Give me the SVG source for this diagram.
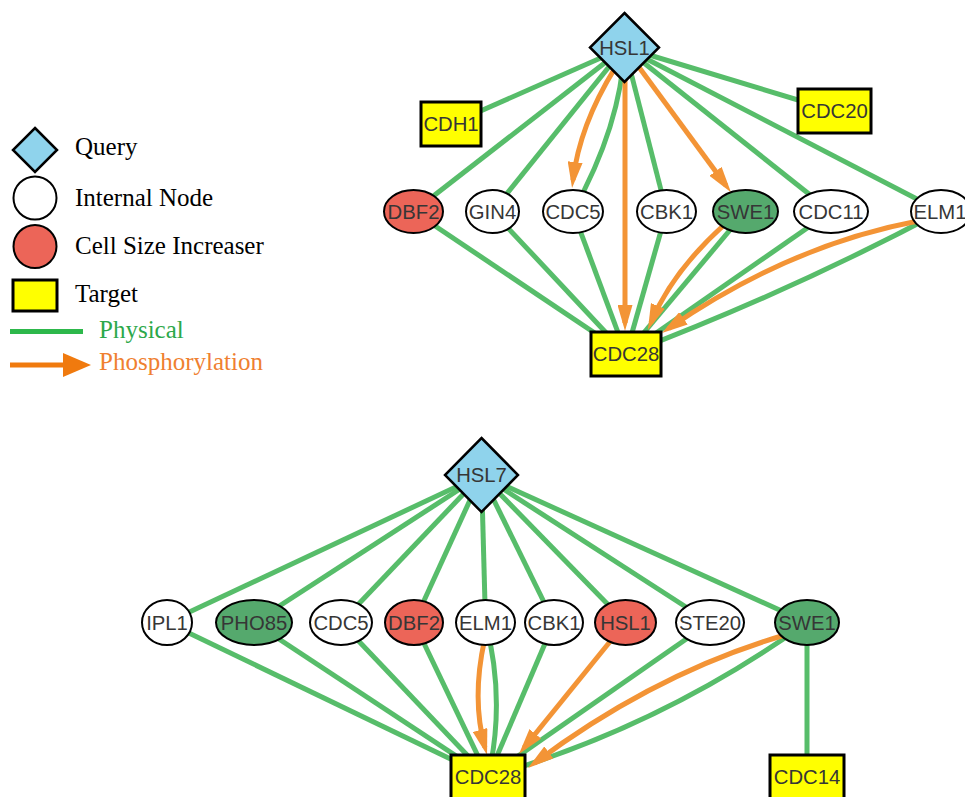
<svg xmlns="http://www.w3.org/2000/svg" width="965" height="797" viewBox="0 0 965 797">
  <style>
    .bg { fill: #ffffff; }
    .phys { fill: none; stroke: #57BD6A; stroke-width: 5; }
    .phos { fill: none; stroke: #F39436; stroke-width: 5; marker-end: url(#arrow); }
    .query { fill: #8FD3EC; stroke: #000; stroke-width: 2.5; }
    .internal { fill: #ffffff; stroke: #000; stroke-width: 2; }
    .increaser { fill: #EC6558; stroke: #000; stroke-width: 2; }
    .dark { fill: #55A96D; stroke: #000; stroke-width: 2; }
    .target { fill: #FFFF00; stroke: #000; stroke-width: 3; }
    .lbl { font-family: "Liberation Sans", Arial, sans-serif; font-size: 20.3px; fill: #363636; text-anchor: middle; }
    .leg { font-family: "Liberation Serif", "Times New Roman", serif; font-size: 25px; fill: #000; }
    .leg-phys { fill: #2CA84A; }
    .leg-phos { fill: #EF8030; }
  </style>
  <defs>
    <marker id="arrow" markerUnits="userSpaceOnUse" viewBox="0 0 26 15" markerWidth="26" markerHeight="15" refX="18" refY="7.5" orient="auto">
      <path d="M0,0 L26,7.5 L0,15 z" fill="#F39436"/>
    </marker>
  </defs>
  <rect class="bg" x="0" y="0" width="965" height="797"/>

  <!-- Legend -->
  <g id="legend">
    <polygon class="query" points="35,128 57,150 35,172 13,150" stroke-width="1.5"/>
    <text class="leg" x="75" y="155">Query</text>
    <circle class="internal" cx="35" cy="198" r="21.5" stroke-width="1.5"/>
    <text class="leg" x="75" y="206">Internal Node</text>
    <circle class="increaser" cx="35" cy="246.5" r="21.5" stroke-width="1.5"/>
    <text class="leg" x="75" y="254">Cell Size Increaser</text>
    <rect class="target" x="13" y="280" width="44" height="31" stroke-width="1.5"/>
    <text class="leg" x="75" y="302">Target</text>
    <line x1="10" y1="331.5" x2="83" y2="331.5" stroke="#2DB84B" stroke-width="5"/>
    <text class="leg leg-phys" x="99" y="338">Physical</text>
    <line x1="10" y1="365" x2="66" y2="365" stroke="#F07A0E" stroke-width="5"/>
    <polygon points="63,353 91,365 63,377" fill="#F07A0E"/>
    <text class="leg leg-phos" x="99" y="370">Phosphorylation</text>
  </g>

  <!-- HSL1 network: connectors -->
  <g id="edges-hsl1">
    <line class="phys" x1="624.5" y1="47.5" x2="451" y2="124"/>
    <line class="phys" x1="624.5" y1="47.5" x2="834.5" y2="111"/>
    <line class="phys" x1="624.5" y1="47.5" x2="413.5" y2="211.5"/>
    <line class="phys" x1="624.5" y1="47.5" x2="492.5" y2="211.5"/>
    <path class="phys" d="M624.5,47.5 Q621,125 573,211.5"/>
    <line class="phys" x1="624.5" y1="47.5" x2="666.5" y2="211.5"/>
    <line class="phys" x1="624.5" y1="47.5" x2="831" y2="211.5"/>
    <line class="phys" x1="624.5" y1="47.5" x2="941" y2="211.5"/>

    <line class="phys" x1="413.5" y1="211.5" x2="626" y2="354"/>
    <line class="phys" x1="492.5" y1="211.5" x2="626" y2="354"/>
    <line class="phys" x1="573" y1="211.5" x2="626" y2="354"/>
    <line class="phys" x1="666.5" y1="211.5" x2="626" y2="354"/>
    <line class="phys" x1="745.5" y1="211.5" x2="626" y2="354"/>
    <line class="phys" x1="831" y1="211.5" x2="626" y2="354"/>
    <path class="phys" d="M941,211.5 Q790,292 626,354"/>

    <path class="phos" d="M615,68 Q579.5,125.5 573,180"/>
    <path class="phos" d="M625,60 L625,323"/>
    <path class="phos" d="M624.5,47.5 L726.2,185.8"/>
    <path class="phos" d="M724,225 Q672,272 651,322.6"/>
    <path class="phos" d="M918,221 Q790,245 668.6,328.5"/>
  </g>

  <!-- HSL1 network: nodes -->
  <g id="n-hsl1">
    <polygon class="query" points="624.5,13 659,47.5 624.5,82 590,47.5"/>
    <text class="lbl" x="624.5" y="54.5">HSL1</text>
  </g>
  <g id="n-cdh1">
    <rect class="target" x="421" y="102" width="60" height="44"/>
    <text class="lbl" x="451" y="131">CDH1</text>
  </g>
  <g id="n-cdc20">
    <rect class="target" x="798" y="89" width="73" height="44"/>
    <text class="lbl" x="834.5" y="118">CDC20</text>
  </g>
  <g id="n-dbf2-a">
    <ellipse class="increaser" cx="413.5" cy="211.5" rx="29.5" ry="21.5"/>
    <text class="lbl" x="413.5" y="218.5">DBF2</text>
  </g>
  <g id="n-gin4">
    <ellipse class="internal" cx="492.5" cy="211.5" rx="26.5" ry="21.5"/>
    <text class="lbl" x="492.5" y="218.5">GIN4</text>
  </g>
  <g id="n-cdc5-a">
    <ellipse class="internal" cx="573" cy="211.5" rx="30" ry="21.5"/>
    <text class="lbl" x="573" y="218.5">CDC5</text>
  </g>
  <g id="n-cbk1-a">
    <ellipse class="internal" cx="666.5" cy="211.5" rx="29.5" ry="21.5"/>
    <text class="lbl" x="666.5" y="218.5">CBK1</text>
  </g>
  <g id="n-swe1-a">
    <ellipse class="dark" cx="745.5" cy="211.5" rx="32.5" ry="21.5"/>
    <text class="lbl" x="745.5" y="218.5">SWE1</text>
  </g>
  <g id="n-cdc11">
    <ellipse class="internal" cx="831" cy="211.5" rx="37" ry="21.5"/>
    <text class="lbl" x="831" y="218.5">CDC11</text>
  </g>
  <g id="n-elm1-a">
    <ellipse class="internal" cx="941" cy="211.5" rx="30" ry="21.5"/>
    <text class="lbl" x="940" y="218.5">ELM1</text>
  </g>
  <g id="n-cdc28-a">
    <rect class="target" x="591" y="332" width="70" height="44"/>
    <text class="lbl" x="626" y="361">CDC28</text>
  </g>

  <!-- HSL7 network: connectors -->
  <g id="edges-hsl7">
    <line class="phys" x1="481.5" y1="475" x2="167" y2="622.5"/>
    <line class="phys" x1="481.5" y1="475" x2="254" y2="622.5"/>
    <line class="phys" x1="481.5" y1="475" x2="341" y2="622.5"/>
    <line class="phys" x1="481.5" y1="475" x2="414" y2="622.5"/>
    <line class="phys" x1="481.5" y1="475" x2="485.5" y2="622.5"/>
    <line class="phys" x1="481.5" y1="475" x2="554" y2="622.5"/>
    <line class="phys" x1="481.5" y1="475" x2="625.5" y2="622.5"/>
    <line class="phys" x1="481.5" y1="475" x2="710" y2="622.5"/>
    <line class="phys" x1="481.5" y1="475" x2="807" y2="622.5"/>

    <line class="phys" x1="167" y1="622.5" x2="488" y2="777"/>
    <line class="phys" x1="254" y1="622.5" x2="488" y2="777"/>
    <line class="phys" x1="341" y1="622.5" x2="488" y2="777"/>
    <line class="phys" x1="414" y1="622.5" x2="488" y2="777"/>
    <path class="phys" d="M485.5,622.5 Q506,700 488,777"/>
    <line class="phys" x1="554" y1="622.5" x2="488" y2="777"/>
    <line class="phys" x1="710" y1="622.5" x2="488" y2="777"/>
    <path class="phys" d="M807,622.5 Q660.8,727.3 488,777"/>
    <line class="phys" x1="807" y1="622.5" x2="807" y2="777"/>

    <path class="phos" d="M484.5,640 Q471.5,699 484.9,747.3"/>
    <path class="phos" d="M625.5,622.5 L524,747.8"/>
    <path class="phos" d="M785,635 Q655,673 534.4,763.2"/>
  </g>

  <!-- HSL7 network: nodes -->
  <g id="n-hsl7">
    <polygon class="query" points="481.5,438 518,475 481.5,512 445,475"/>
    <text class="lbl" x="481.5" y="482">HSL7</text>
  </g>
  <g id="n-ipl1">
    <ellipse class="internal" cx="167" cy="622.5" rx="25" ry="22.5"/>
    <text class="lbl" x="167" y="629.5">IPL1</text>
  </g>
  <g id="n-pho85">
    <ellipse class="dark" cx="254" cy="622.5" rx="38" ry="22.5"/>
    <text class="lbl" x="254" y="629.5">PHO85</text>
  </g>
  <g id="n-cdc5-b">
    <ellipse class="internal" cx="341" cy="622.5" rx="31" ry="22.5"/>
    <text class="lbl" x="341" y="629.5">CDC5</text>
  </g>
  <g id="n-dbf2-b">
    <ellipse class="increaser" cx="414" cy="622.5" rx="29" ry="22.5"/>
    <text class="lbl" x="414" y="629.5">DBF2</text>
  </g>
  <g id="n-elm1-b">
    <ellipse class="internal" cx="485.5" cy="622.5" rx="29.5" ry="22.5"/>
    <text class="lbl" x="485.5" y="629.5">ELM1</text>
  </g>
  <g id="n-cbk1-b">
    <ellipse class="internal" cx="554" cy="622.5" rx="29" ry="22.5"/>
    <text class="lbl" x="554" y="629.5">CBK1</text>
  </g>
  <g id="n-hsl1-b">
    <ellipse class="increaser" cx="625.5" cy="622.5" rx="30.5" ry="22.5"/>
    <text class="lbl" x="625.5" y="629.5">HSL1</text>
  </g>
  <g id="n-ste20">
    <ellipse class="internal" cx="710" cy="622.5" rx="34" ry="22.5"/>
    <text class="lbl" x="710" y="629.5">STE20</text>
  </g>
  <g id="n-swe1-b">
    <ellipse class="dark" cx="807" cy="622.5" rx="32" ry="22.5"/>
    <text class="lbl" x="807" y="629.5">SWE1</text>
  </g>
  <g id="n-cdc28-b">
    <rect class="target" x="451" y="755" width="74" height="44"/>
    <text class="lbl" x="488" y="784">CDC28</text>
  </g>
  <g id="n-cdc14">
    <rect class="target" x="770" y="755" width="74" height="44"/>
    <text class="lbl" x="807" y="784">CDC14</text>
  </g>
</svg>
